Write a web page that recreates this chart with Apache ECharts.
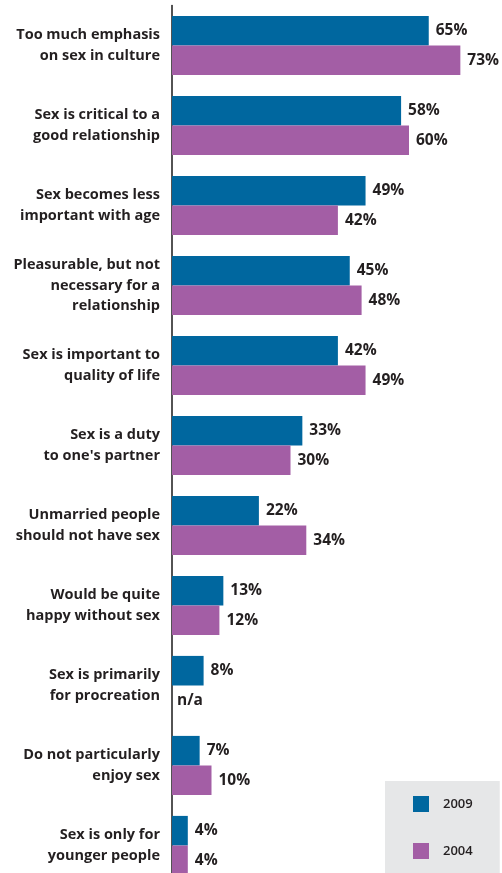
<!DOCTYPE html>
<html>
<head>
<meta charset="utf-8">
<script src="https://cdn.jsdelivr.net/npm/echarts@6/dist/echarts.min.js"></script>
<style>
  html, body { margin: 0; padding: 0; background: #fff; overflow: hidden; }
  #chart { width: 502px; height: 900px; }
</style>
</head>
<body>
<div id="chart"></div>
<script>
// Attitudes about sex: share agreeing with each statement, 2009 vs 2004
const categories = [
  'Too much emphasis\non sex in culture',
  'Sex is critical to a\ngood relationship',
  'Sex becomes less\nimportant with age',
  'Pleasurable, but not\nnecessary for a\nrelationship',
  'Sex is important to\nquality of life',
  'Sex is a duty\nto one\'s partner',
  'Unmarried people\nshould not have sex',
  'Would be quite\nhappy without sex',
  'Sex is primarily\nfor procreation',
  'Do not particularly\nenjoy sex',
  'Sex is only for\nyounger people'
];
const values2009 = [65, 58, 49, 45, 42, 33, 22, 13, 8, 7, 4];
const values2004 = [73, 60, 42, 48, 49, 30, 34, 12, null, 10, 4];

const BLUE = '#00679f';
const PURPLE = '#a35ea5';
const TEXT = '#231f20';
const FONT = '"Open Sans", "DejaVu Sans", sans-serif';

// Missing values get an invisible zero-length bar labelled "n/a"
function toSeriesData(arr) {
  return arr.map(v => v === null
    ? { value: 0, itemStyle: { color: 'transparent' }, label: { formatter: 'n/a', distance: 5 } }
    : v);
}

const valueLabel = {
  show: true,
  position: 'right',
  distance: 7,
  formatter: '{c}%',
  color: TEXT,
  fontFamily: FONT,
  fontWeight: 'bold',
  fontSize: 15.5
};

const chart = echarts.init(document.getElementById('chart'), null, { renderer: 'canvas' });
chart.setOption({
  animation: false,
  backgroundColor: '#ffffff',
  grid: { left: 172, top: 5.5, width: 316, height: 880, containLabel: false },
  xAxis: {
    type: 'value', min: 0, max: 80,
    show: false
  },
  yAxis: {
    type: 'category',
    data: categories,
    inverse: true,
    axisLine: { show: true, lineStyle: { color: '#1a1a1a', width: 1.5 } },
    axisTick: { show: false },
    axisLabel: {
      color: TEXT, fontFamily: FONT, fontWeight: 'bold', fontSize: 14.5,
      lineHeight: 20.5, margin: 12, align: 'right'
    }
  },
  legend: {
    orient: 'vertical',
    left: 385, top: 781,
    padding: [15, 27, 22, 28],
    backgroundColor: '#e6e7e8',
    itemWidth: 16, itemHeight: 16,
    itemGap: 31,
    icon: 'rect',
    textStyle: { color: TEXT, fontFamily: FONT, fontSize: 13, fontWeight: 600, padding: [0, 0, 0, 9] },
    data: ['2009', '2004']
  },
  series: [
    {
      name: '2009', type: 'bar',
      data: toSeriesData(values2009),
      itemStyle: { color: BLUE },
      barGap: '0%', barCategoryGap: '26%',
      label: valueLabel
    },
    {
      name: '2004', type: 'bar',
      data: toSeriesData(values2004),
      itemStyle: { color: PURPLE },
      barGap: '0%', barCategoryGap: '26%',
      label: valueLabel
    }
  ]
});
</script>
</body>
</html>
